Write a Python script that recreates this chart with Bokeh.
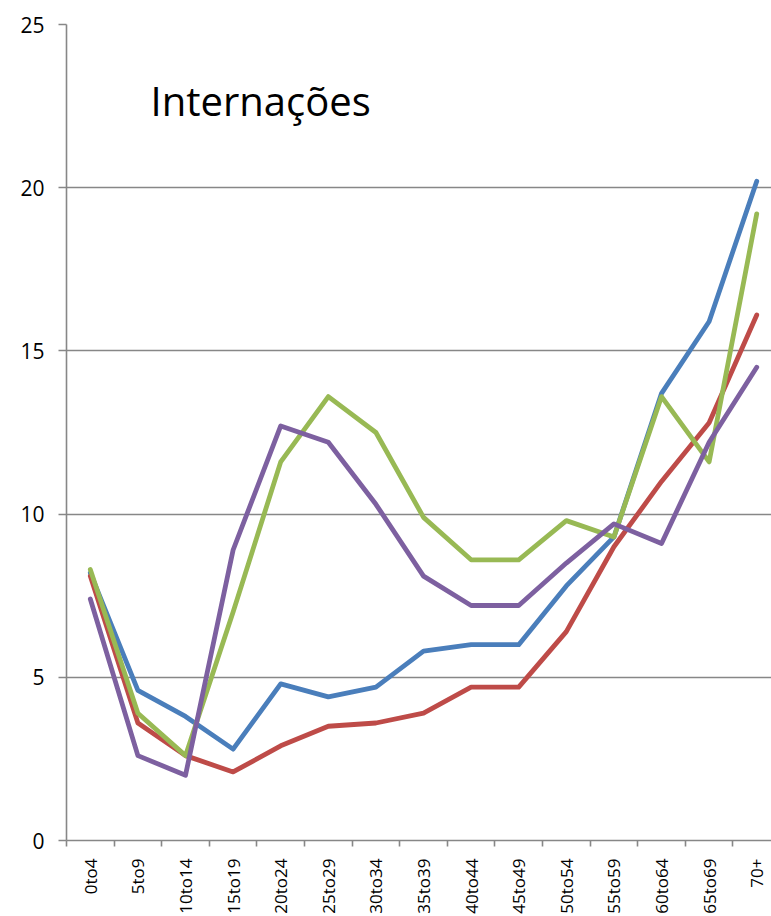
import math
from bokeh.plotting import figure
from bokeh.models import Range1d, FixedTicker, ColumnDataSource, Label
from bokeh.embed import file_html
from bokeh.resources import INLINE

ages = ["0to4", "5to9", "10to14", "15to19", "20to24", "25to29", "30to34", "35to39",
        "40to44", "45to49", "50to54", "55to59", "60to64", "65to69", "70+"]
serie_azul = [8.2, 4.6, 3.8, 2.8, 4.8, 4.4, 4.7, 5.8, 6.0, 6.0, 7.8, 9.3, 13.7, 15.9, 20.2]
serie_vermelha = [8.1, 3.6, 2.6, 2.1, 2.9, 3.5, 3.6, 3.9, 4.7, 4.7, 6.4, 9.0, 11.0, 12.8, 16.1]
serie_verde = [8.3, 3.9, 2.6, 7.0, 11.6, 13.6, 12.5, 9.9, 8.6, 8.6, 9.8, 9.3, 13.6, 11.6, 19.2]
serie_roxa = [7.4, 2.6, 2.0, 8.9, 12.7, 12.2, 10.3, 8.1, 7.2, 7.2, 8.5, 9.7, 9.1, 12.2, 14.5]
y_ticks = [0, 5, 10, 15, 20, 25]
titulo = "Internações"

xs = list(range(len(ages)))
source = ColumnDataSource(dict(x=xs, azul=serie_azul, vermelha=serie_vermelha,
                               verde=serie_verde, roxa=serie_roxa))

FONT = "Open Sans"
GRAY = "#878787"

p = figure(width=771, height=916, x_range=Range1d(-0.5, 14.31), y_range=Range1d(0, 25),
           output_backend="svg", toolbar_location=None,
           min_border_left=66, min_border_right=0, min_border_top=24, min_border_bottom=75)
p.outline_line_color = None
p.background_fill_color = "white"
p.border_fill_color = "white"

# grid
p.xgrid.visible = False
p.ygrid.grid_line_color = GRAY
p.ygrid.grid_line_width = 1.6

# y axis
p.yaxis.ticker = FixedTicker(ticks=y_ticks)
p.yaxis.axis_line_color = GRAY
p.yaxis.axis_line_width = 1.6
p.yaxis.major_tick_line_color = GRAY
p.yaxis.major_tick_line_width = 1.6
p.yaxis.major_tick_out = 8
p.yaxis.major_tick_in = 0
p.yaxis.minor_tick_line_color = None
p.yaxis.major_label_standoff = 14
p.yaxis.major_label_text_font = FONT
p.yaxis.major_label_text_font_size = "21px"
p.yaxis.major_label_text_color = "black"

# x axis: labels at category centers, tick marks at category boundaries
p.xaxis.ticker = FixedTicker(ticks=xs, minor_ticks=[i - 0.5 for i in range(len(ages) + 1)])
p.xaxis.major_label_overrides = {i: a for i, a in zip(xs, ages)}
p.xaxis.major_label_orientation = math.pi / 2
p.xaxis.axis_line_color = GRAY
p.xaxis.axis_line_width = 1.6
p.xaxis.major_tick_line_color = None
p.xaxis.major_tick_out = 0
p.xaxis.major_tick_in = 0
p.xaxis.minor_tick_line_color = GRAY
p.xaxis.minor_tick_line_width = 1.6
p.xaxis.minor_tick_out = 6
p.xaxis.minor_tick_in = 0
p.xaxis.major_label_standoff = 12
p.xaxis.major_label_text_font = FONT
p.xaxis.major_label_text_font_size = "17px"
p.xaxis.major_label_text_color = "black"

cores = [("azul", "#4A7EBB"), ("vermelha", "#BE4B48"), ("verde", "#98B954"), ("roxa", "#7D60A0")]
for col, cor in cores:
    p.line("x", col, source=source, line_color=cor, line_width=4.8,
           line_join="round", line_cap="round")

p.add_layout(Label(x=1.265, y=22.67, text=titulo, text_font=FONT, text_font_size="40px",
                   text_color="black", text_align="left", text_baseline="alphabetic"))

open("out.html", "w").write(file_html(p, INLINE))
